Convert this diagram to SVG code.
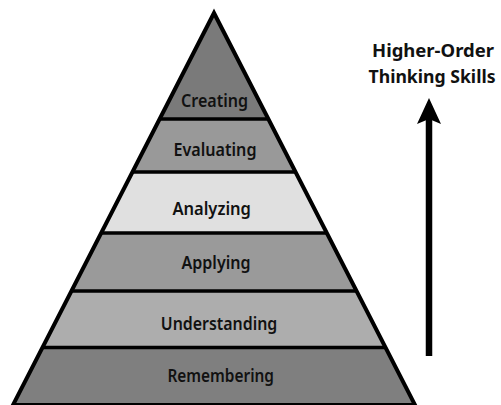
<svg xmlns="http://www.w3.org/2000/svg" width="501" height="405" viewBox="0 0 501 405">
  <style>
    .band { stroke: none; }
    .divider { stroke: #000; stroke-width: 3.5; }
    .outline { fill: none; stroke: #000; stroke-width: 4; stroke-linejoin: miter; }
    .label { font-family: "Noto Sans", "Open Sans", sans-serif; font-weight: 600; font-size: 18px; fill: #111; text-anchor: middle; }
    .title { font-family: "Noto Sans", "Open Sans", sans-serif; font-weight: 700; font-size: 18px; fill: #111; text-anchor: middle; }
  </style>
  <defs>
    <marker id="arrowhead" markerUnits="userSpaceOnUse" markerWidth="26" markerHeight="24" refX="5" refY="12" orient="auto" viewBox="0 0 26 24">
      <path d="M0,0 L26,12 L0,24 L5,12 Z" fill="#000"/>
    </marker>
  </defs>
  <rect width="501" height="405" fill="#fff"/>

  <g id="creating">
    <polygon class="band" fill="#7a7a7a" points="214,13 268.4,119 159.6,119"/>
    <text class="label" x="214.5" y="106.7" textLength="67" lengthAdjust="spacingAndGlyphs">Creating</text>
  </g>
  <g id="evaluating">
    <polygon class="band" fill="#999999" points="159.6,119 268.4,119 295.6,172 132.4,172"/>
    <text class="label" x="215" y="156" textLength="83" lengthAdjust="spacingAndGlyphs">Evaluating</text>
  </g>
  <g id="analyzing">
    <polygon class="band" fill="#e0e0e0" points="132.4,172 295.6,172 326.9,233 101.1,233"/>
    <text class="label" x="211.7" y="215" textLength="78.5" lengthAdjust="spacingAndGlyphs">Analyzing</text>
  </g>
  <g id="applying">
    <polygon class="band" fill="#9a9a9a" points="101.1,233 326.9,233 356.6,291 71.4,291"/>
    <text class="label" x="216" y="269" textLength="69" lengthAdjust="spacingAndGlyphs">Applying</text>
  </g>
  <g id="understanding">
    <polygon class="band" fill="#adadad" points="71.4,291 356.6,291 385.4,347.5 42.6,347.5"/>
    <text class="label" x="219" y="330" textLength="116.5" lengthAdjust="spacingAndGlyphs">Understanding</text>
  </g>
  <g id="remembering">
    <polygon class="band" fill="#7f7f7f" points="42.6,347.5 385.4,347.5 415,405 13,405"/>
    <text class="label" x="220.7" y="381.7" textLength="106.5" lengthAdjust="spacingAndGlyphs">Remembering</text>
  </g>

  <g id="pyramid-lines">
    <line class="divider" x1="159.6" y1="119" x2="268.4" y2="119"/>
    <line class="divider" x1="132.4" y1="172" x2="295.6" y2="172"/>
    <line class="divider" x1="101.1" y1="233" x2="326.9" y2="233"/>
    <line class="divider" x1="71.4" y1="291" x2="356.6" y2="291"/>
    <line class="divider" x1="42.6" y1="347.5" x2="385.4" y2="347.5"/>
    <polygon class="outline" points="214,13 415,405 13,405"/>
  </g>

  <g id="higher-order-label">
    <text class="title" x="433" y="57" textLength="122" lengthAdjust="spacingAndGlyphs">Higher-Order</text>
    <text class="title" x="432" y="83" textLength="127" lengthAdjust="spacingAndGlyphs">Thinking Skills</text>
  </g>

  <g id="connectors">
    <line x1="429" y1="356" x2="429" y2="119" stroke="#000" stroke-width="6.5" marker-end="url(#arrowhead)"/>
  </g>
</svg>
